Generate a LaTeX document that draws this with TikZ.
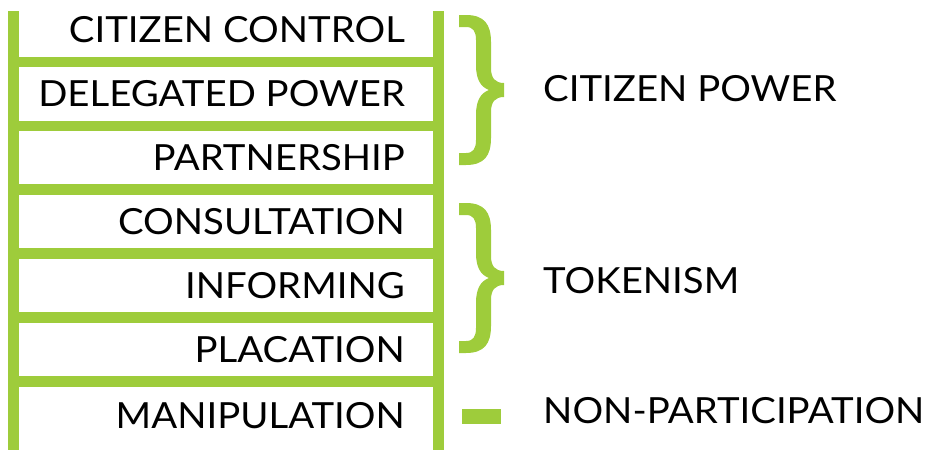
\documentclass[tikz,border=0pt]{standalone}
\usepackage{fontspec}
\setmainfont{Lato}[FakeStretch=1.065]
\definecolor{ladder}{RGB}{158,204,59}
\begin{document}
\begin{tikzpicture}[x=1pt,y=-1pt,
  rail/.style={fill=ladder, draw=none},
  rungtext/.style={anchor=base east, inner sep=0pt, font=\fontsize{36}{40}\selectfont},
  grouptext/.style={anchor=base west, inner sep=0pt, font=\fontsize{36}{40}\selectfont},
  bracepath/.style={fill=ladder, draw=none}]
\useasboundingbox (0,0) rectangle (925,450);

% rails
\fill[rail] (8,11) rectangle (19,450);
\fill[rail] (433,11) rectangle (443.5,450);

% rungs
\foreach \yc in {62,126,189.5,253.5,317.5,381.5}
  \fill[rail] (19,\yc-5.3) rectangle (433,\yc+5.3);

% ladder labels
\node[rungtext] (cc)  at (405,42)    {CITIZEN CONTROL};
\node[rungtext] (dp)  at (405,106)   {DELEGATED POWER};
\node[rungtext] (pa)  at (405,170)   {PARTNERSHIP};
\node[rungtext] (co)  at (405,234)   {CONSULTATION};
\node[rungtext] (inf) at (405,298)   {INFORMING};
\node[rungtext] (pl)  at (405,362)   {PLACATION};
\node[rungtext] (ma)  at (405,428)   {MANIPULATION};

% braces
\foreach \dy in {0,188}{
\begin{scope}[shift={(0,\dy)}]
\fill[bracepath] (459,15) -- (466,15)
  .. controls (484,15) and (491,24) .. (491,42) -- (491,68)
  .. controls (491,78) and (495,83) .. (504,83) -- (504,97)
  .. controls (495,97) and (491,102) .. (491,112) -- (491,138)
  .. controls (491,156) and (484,165) .. (466,165) -- (459,165) -- (459,153) -- (466,153)
  .. controls (473,153) and (476,149) .. (476,140) -- (476,115)
  .. controls (476,100) and (481,93) .. (489,90)
  .. controls (481,87) and (476,80) .. (476,65) -- (476,40)
  .. controls (476,31) and (473,27) .. (466,27) -- (459,27) -- cycle;
\end{scope}}

% non-participation marker
\fill[rail] (462,409) rectangle (501,423.5);

% group labels
\node[grouptext] (cp) at (543,101.5) {CITIZEN POWER};
\node[grouptext] (tk) at (543,293)   {TOKENISM};
\node[grouptext] (np) at (543,423)   {NON-PARTICIPATION};
\end{tikzpicture}
\end{document}
